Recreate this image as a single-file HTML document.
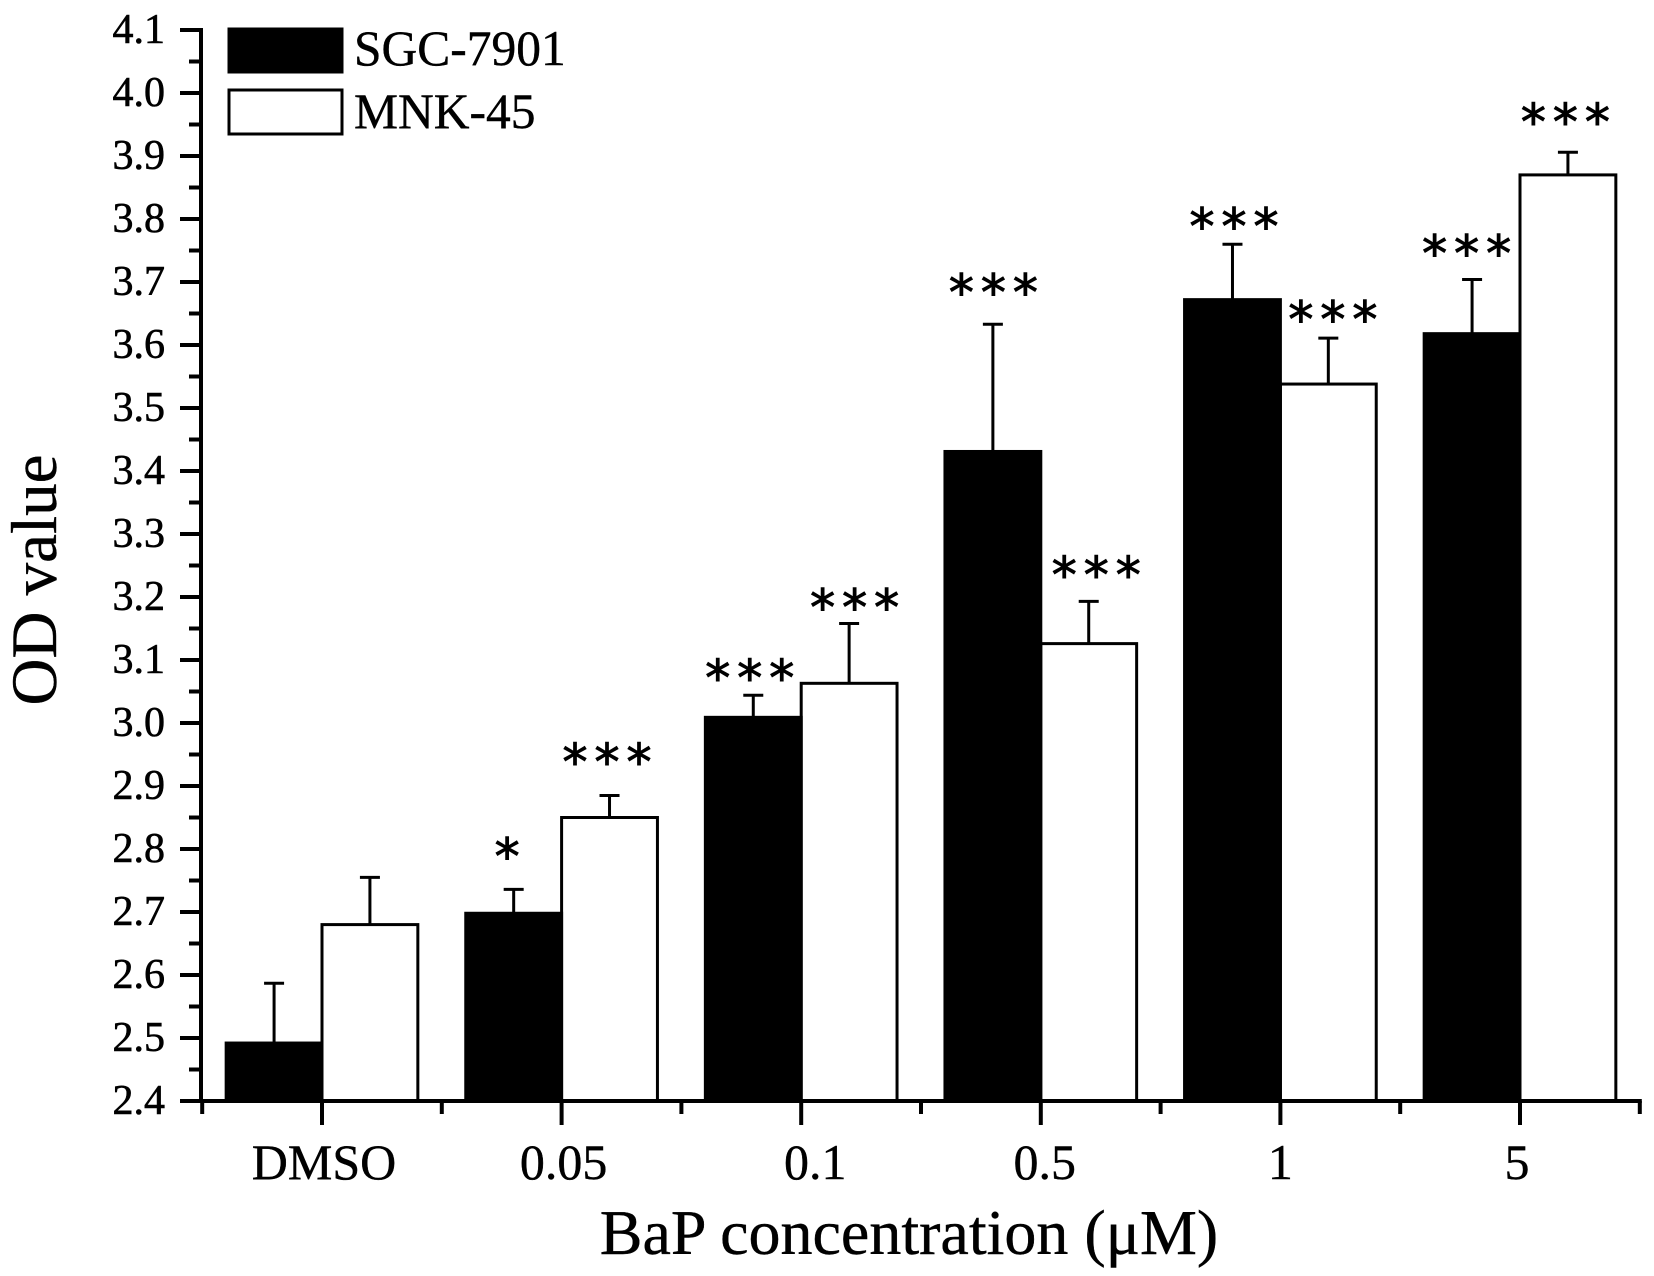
<!DOCTYPE html>
<html>
<head>
<meta charset="utf-8">
<title>OD value by BaP concentration</title>
<style>
html,body{margin:0;padding:0;background:#fff;}
svg{display:block;}
text{font-family:"Liberation Serif",serif;fill:#000;}
</style>
</head>
<body>
<svg id="chart" xmlns="http://www.w3.org/2000/svg" width="1654" height="1276" viewBox="0 0 1654 1276">
<rect x="0" y="0" width="1654" height="1276" fill="#fff"/>
</svg>
<script>
const categories = ['DMSO', '0.05', '0.1', '0.5', '1', '5'];
const seriesNames = ['SGC-7901', 'MNK-45'];
const sgcValues = [2.492, 2.698, 3.009, 3.431, 3.672, 3.618];
const sgcErrorTops = [2.587, 2.736, 3.044, 3.633, 3.760, 3.704];
const mnkValues = [2.680, 2.850, 3.063, 3.126, 3.538, 3.870];
const mnkErrorTops = [2.755, 2.885, 3.158, 3.193, 3.611, 3.906];
const sgcStarCounts = [0, 1, 3, 3, 3, 3];
const mnkStarCounts = [0, 3, 3, 3, 3, 3];
const sgcStarLevels = [0, 2.80, 3.083, 3.695, 3.80, 3.757];
const mnkStarLevels = [0, 2.95, 3.195, 3.247, 3.652, 3.966];
const yTickLabels = ['2.4','2.5','2.6','2.7','2.8','2.9','3.0','3.1','3.2','3.3','3.4','3.5','3.6','3.7','3.8','3.9','4.0','4.1'];

const svg = document.getElementById('chart');
const NS = 'http://www.w3.org/2000/svg';
const yMin = parseFloat(yTickLabels[0]);
const yStep = 630;
const xFirst = 322;
const xStep = 239.6;
const axisBottom = 1101;
function y(v){ return axisBottom - (v - yMin) * yStep; }
function x(i){ return xFirst + i * xStep; }
const barW = x(0.4) - x(0);

function make(tag, attrs, text){
  const el = document.createElementNS(NS, tag);
  for (const k in attrs) el.setAttribute(k, attrs[k]);
  if (text !== undefined) el.textContent = text;
  svg.appendChild(el);
  return el;
}

function drawSeries(values, errs, left, fill, prefix){
  values.forEach(function(v, i){
    const x0 = left ? x(i) - barW : x(i);
    const cx = x0 + barW / 2;
    const eLine = make('line', {x1:cx, x2:cx, y1:y(v), y2:y(errs[i]), stroke:'#000', 'stroke-width':3});
    
    
    const eCap = make('line', {x1:cx-10, x2:cx+10, y1:y(errs[i]), y2:y(errs[i]), stroke:'#000', 'stroke-width':3});
    
    
    const bar = make('rect', {x:x0, y:y(v), width:barW, height:axisBottom - y(v), fill:fill, stroke:'#000', 'stroke-width':3});
    
    
  });
}
drawSeries(mnkValues, mnkErrorTops, false, '#fff', 'mnk45');
drawSeries(sgcValues, sgcErrorTops, true, '#000', 'sgc7901');

function drawStars(counts, levels, left, prefix, shifts){
  counts.forEach(function(n, i){
    if (!n) return;
    const cx = (left ? x(i) - barW / 2 : x(i) + barW / 2) + 3 + shifts[i];
    const t = make('text', {x:cx + (n > 1 ? 3 : -8), y:y(levels[i]) + 25, 'text-anchor':'middle',
      'font-size':50, 'letter-spacing':7, stroke:'#000', 'stroke-width':1, style:'font-family:"DejaVu Sans",sans-serif'}, '*'.repeat(n));
    
    
  });
}
drawStars(sgcStarCounts, sgcStarLevels, true, 'sgc7901', [0, 2, -6, -2, -1, -8]);
drawStars(mnkStarCounts, mnkStarLevels, false, 'mnk45', [0, -5, 3, 5, 2, -5]);

/* y axis */
const yAxisLine = make('line', {x1:201, x2:201, y1:y(parseFloat(yTickLabels[yTickLabels.length-1]))-2, y2:axisBottom+2, stroke:'#000', 'stroke-width':4});


yTickLabels.forEach(function(lab, i){
  const v = parseFloat(lab);
  const major = make('line', {x1:180, x2:201, y1:y(v), y2:y(v), stroke:'#000', 'stroke-width':4});
  
  
  const t = make('text', {x:165, y:y(v)+13, 'text-anchor':'end', 'font-size':42, stroke:'#000', 'stroke-width':0.6}, lab);
  
  
  if (i < yTickLabels.length - 1) {
    const mv = v + 0.05;
    const minor = make('line', {x1:189, x2:201, y1:y(mv), y2:y(mv), stroke:'#000', 'stroke-width':4});
    
    
  }
});

/* x axis */
const xAxisLine = make('line', {x1:180, x2:x(categories.length - 0.5)+2, y1:axisBottom, y2:axisBottom, stroke:'#000', 'stroke-width':4});


categories.forEach(function(c, i){
  const major = make('line', {x1:x(i), x2:x(i), y1:axisBottom, y2:axisBottom+24, stroke:'#000', 'stroke-width':4});
  
  
  const nudge = [2, 2, 14, 4, 0, -3][i];
  const t = make('text', {x:x(i)+nudge, y:1179, 'text-anchor':'middle', 'font-size':50, stroke:'#000', 'stroke-width':0.4}, c);
  
  
});
for (let i = 0; i <= categories.length; i++) {
  const mx = x(i - 0.5);
  const minor = make('line', {x1:mx, x2:mx, y1:axisBottom, y2:axisBottom+13, stroke:'#000', 'stroke-width':4});
  
  
}

/* titles */
const xTitle = make('text', {x:909, y:1254, 'text-anchor':'middle', 'font-size':64, stroke:'#000', 'stroke-width':0.4}, 'BaP concentration (\u03BCM)');


const yTitle = make('text', {transform:'translate(56 580) rotate(-90)', 'text-anchor':'middle', 'font-size':65, stroke:'#000', 'stroke-width':0.4}, 'OD value');



/* legend */
const legendA = make('rect', {x:229, y:29, width:113, height:43, fill:'#000', stroke:'#000', 'stroke-width':3});


const legendAText = make('text', {x:354, y:65, 'font-size':49.5, stroke:'#000', 'stroke-width':0.4}, seriesNames[0]);


const legendB = make('rect', {x:229, y:90, width:113, height:44, fill:'#fff', stroke:'#000', 'stroke-width':3});


const legendBText = make('text', {x:354, y:128, 'font-size':49.5, stroke:'#000', 'stroke-width':0.4}, seriesNames[1]);


</script>
</body>
</html>
